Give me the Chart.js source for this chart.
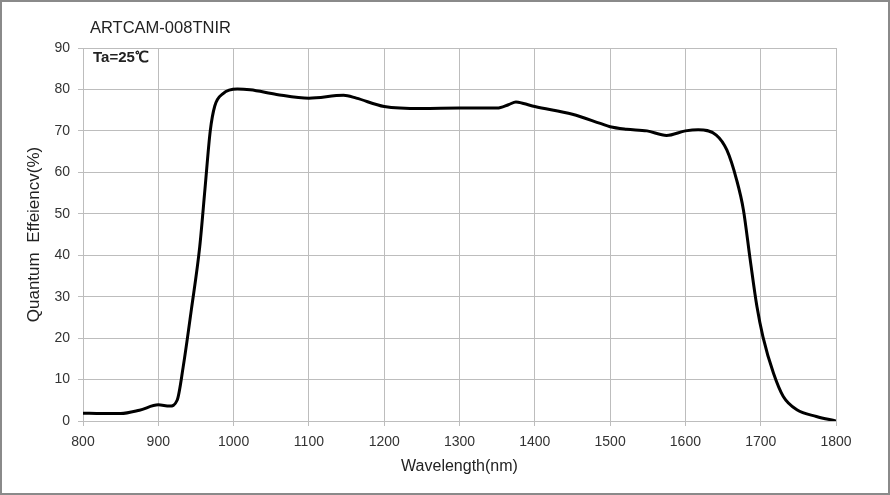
<!DOCTYPE html>
<html lang="ja">
<head>
    <meta charset="UTF-8">
    <title>ARTCAM-008TNIR</title>
    <script src="https://cdn.jsdelivr.net/npm/chart.js"></script>
    <style>
        body { margin: 0; background: #fff; }
        #qeChart { display: block; }
    </style>
</head>
<body>
    <canvas id="qeChart" width="890" height="495"></canvas>

    <script>
        // 読み取った分光感度データ
        const wavelength = [800, 825, 850, 875, 900, 915, 925, 933, 944, 955, 962, 969, 975, 986,
            1005, 1022, 1057, 1100, 1146, 1163, 1200, 1250, 1300, 1350, 1365, 1375, 1385, 1400,
            1450, 1487, 1500, 1522, 1549, 1575, 1600, 1617, 1641, 1655, 1668, 1677, 1686, 1695,
            1703, 1717, 1730, 1748, 1774, 1800];
        const qe = [1.9, 1.8, 1.8, 2.6, 3.9, 3.6, 5, 13, 27, 42, 56, 70, 76, 79,
            80.1, 79.9, 78.8, 77.9, 78.6, 77.9, 75.9, 75.4, 75.5, 75.5, 76.3, 77, 76.6, 75.9,
            74, 71.8, 71, 70.4, 70, 68.9, 70, 70.3, 69, 65.4, 58.2, 51, 39, 27.6,
            20.3, 11.5, 5.9, 2.7, 1.1, 0];
        const xTicks = [800, 900, 1000, 1100, 1200, 1300, 1400, 1500, 1600, 1700, 1800];

        const FONT = "'Liberation Sans', Arial, sans-serif";
        const GRID = "#bdbdbd";

        const decor = {
            id: "decor",
            afterDraw(chart) {
                const { ctx, chartArea } = chart;
                ctx.save();
                ctx.strokeStyle = "#8a8a8a";
                ctx.lineWidth = 2;
                ctx.strokeRect(1, 1, 888, 493);
                ctx.fillStyle = "#222";
                ctx.textBaseline = "middle";
                ctx.font = "16.5px " + FONT;
                ctx.fillText("ARTCAM-008TNIR", chartArea.left + 7, 28);
                ctx.font = "bold 15px " + FONT;
                ctx.fillText("Ta=25℃", chartArea.left + 10, 58);
                ctx.restore();
            }
        };

        new Chart(document.getElementById("qeChart"), {
            type: "line",
            data: {
                datasets: [{
                    data: wavelength.map((w, i) => ({ x: w, y: qe[i] })),
                    borderColor: "#000",
                    borderWidth: 3,
                    pointRadius: 0,
                    cubicInterpolationMode: "monotone",
                    fill: false
                }]
            },
            options: {
                responsive: false,
                animation: false,
                layout: { padding: { left: 0, top: 48, right: 54, bottom: 0 } },
                plugins: { legend: { display: false }, tooltip: { enabled: false } },
                scales: {
                    x: {
                        type: "linear",
                        min: 800,
                        max: 1800,
                        afterFit(scale) { scale.height = 74; },
                        afterBuildTicks(scale) { scale.ticks = xTicks.map(v => ({ value: v })); },
                        grid: { color: GRID, tickLength: 5 },
                        border: { color: GRID },
                        ticks: {
                            color: "#333", padding: 8, font: { family: FONT, size: 14 },
                            callback: v => String(v)
                        },
                        title: {
                            display: true,
                            text: "Wavelength(nm)",
                            color: "#222",
                            font: { family: FONT, size: 16 },
                            padding: { top: 0, bottom: 19 }
                        }
                    },
                    y: {
                        min: 0,
                        max: 90,
                        afterFit(scale) { scale.width = 83; },
                        grid: { color: GRID, tickLength: 5 },
                        border: { color: GRID },
                        ticks: { stepSize: 10, color: "#333", padding: 8, font: { family: FONT, size: 14 } },
                        title: {
                            display: true,
                            text: "Quantum  Effeiencv(%)",
                            color: "#222",
                            font: { family: FONT, size: 17 },
                            padding: { top: 24, bottom: 0 }
                        }
                    }
                }
            },
            plugins: [decor]
        });
    </script>
</body>
</html>
